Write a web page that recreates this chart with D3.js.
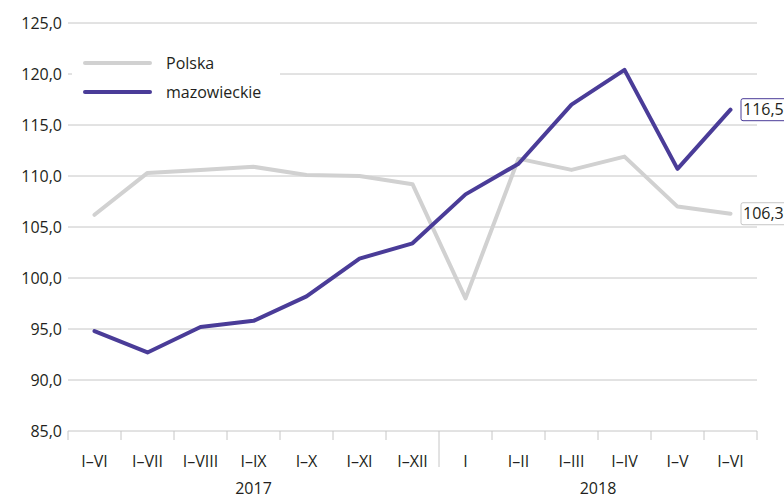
<!DOCTYPE html>
<html lang="pl">
<head>
<meta charset="UTF-8" />
<title>Polska i mazowieckie</title>
<script src="https://d3js.org/d3.v7.min.js"></script>
<style>
  body { margin: 0; background: #fff; }
  text { font-family: "Open Sans", "Noto Sans", sans-serif; fill: #231f20; }
</style>
</head>
<body>
<div id="viz"></div>
<script>
// data
const periods = ["I–VI", "I–VII", "I–VIII", "I–IX", "I–X", "I–XI", "I–XII",
                 "I", "I–II", "I–III", "I–IV", "I–V", "I–VI"];
const years = [{ label: "2017", from: 0, to: 6 }, { label: "2018", from: 7, to: 12 }];
const polska = [106.2, 110.3, 110.6, 110.9, 110.1, 110.0, 109.2, 98.0, 111.7, 110.6, 111.9, 107.0, 106.3];
const mazowieckie = [94.8, 92.7, 95.2, 95.8, 98.2, 101.9, 103.4, 108.2, 111.2, 117.0, 120.4, 110.7, 116.5];
const yTicks = [85, 90, 95, 100, 105, 110, 115, 120, 125];

const W = 784, H = 498;
const plot = { left: 68, right: 757, top: 23, bottom: 431 };
const fs = 16;
const fmt = v => d3.format(".1f")(v).replace(".", ",");

const svg = d3.select("#viz").append("svg").attr("width", W).attr("height", H);

const x = d3.scaleBand().domain(d3.range(periods.length)).range([plot.left, plot.right]).padding(0);
const y = d3.scaleLinear().domain([85, 125]).range([plot.bottom, plot.top]);

// grid lines
svg.append("g").selectAll("line").data(yTicks.slice(1)).join("line")
  .attr("x1", plot.left).attr("x2", plot.right)
  .attr("y1", d => y(d)).attr("y2", d => y(d))
  .attr("stroke", "#c6c6c6").attr("stroke-width", 1);

// y labels
svg.append("g").selectAll("text").data(yTicks).join("text")
  .attr("x", 62).attr("y", d => y(d) + 5.5)
  .attr("text-anchor", "end").attr("font-size", fs)
  .text(fmt);

// x axis
const xAxis = svg.append("g");
xAxis.append("line").attr("x1", plot.left).attr("x2", plot.right)
  .attr("y1", plot.bottom).attr("y2", plot.bottom).attr("stroke", "#c6c6c6");
const bounds = d3.range(periods.length + 1);
const bx = i => i < periods.length ? x(i) : x(i - 1) + x.bandwidth();
xAxis.selectAll("line.tick").data(bounds).join("line").attr("class", "tick")
  .attr("x1", bx).attr("x2", bx)
  .attr("y1", plot.bottom)
  .attr("y2", i => i === 7 ? 467 : 440)
  .attr("stroke", "#c6c6c6");
xAxis.selectAll("text.cat").data(periods).join("text").attr("class", "cat")
  .attr("x", (d, i) => x(i) + x.bandwidth() / 2).attr("y", 467)
  .attr("text-anchor", "middle").attr("font-size", fs)
  .text(d => d);
xAxis.selectAll("text.year").data(years).join("text").attr("class", "year")
  .attr("x", d => (x(d.from) + x(d.to) + x.bandwidth()) / 2).attr("y", 494)
  .attr("text-anchor", "middle").attr("font-size", fs)
  .text(d => d.label);

// legend
const series = [
  { name: "Polska", values: polska, color: "#d1d1d1" },
  { name: "mazowieckie", values: mazowieckie, color: "#4a3c98" }
];
svg.append("rect").attr("x", 72).attr("y", 50).attr("width", 208).attr("height", 55).attr("fill", "#fff");
const lg = svg.append("g").selectAll("g").data(series).join("g")
  .attr("transform", (d, i) => `translate(0,${63 + i * 29})`);
lg.append("line").attr("x1", 85).attr("x2", 150)
  .attr("stroke", d => d.color).attr("stroke-width", 4).attr("stroke-linecap", "round");
lg.append("text").attr("x", 166).attr("y", 6).attr("font-size", fs).text(d => d.name);

// lines
const line = d3.line().x((d, i) => x(i) + x.bandwidth() / 2).y(d => y(d));
svg.append("g").selectAll("path").data(series).join("path")
  .attr("d", d => line(d.values))
  .attr("fill", "none").attr("stroke", d => d.color)
  .attr("stroke-width", 4).attr("stroke-linecap", "round").attr("stroke-linejoin", "round");

// end labels
const last = periods.length - 1;
const endLbl = svg.append("g").selectAll("g").data(series).join("g")
  .attr("transform", d => `translate(741,${y(d.values[last]) - 11})`);
endLbl.append("rect").attr("x", 0).attr("y", 0).attr("width", 50).attr("height", 22)
  .attr("rx", 2).attr("fill", "#fff")
  .attr("stroke", d => d.name === "Polska" ? "#c6c6c6" : "#4a3c98");
endLbl.append("text").attr("x", 2).attr("y", 16).attr("font-size", fs)
  .text(d => fmt(d.values[last]));
</script>
</body>
</html>
